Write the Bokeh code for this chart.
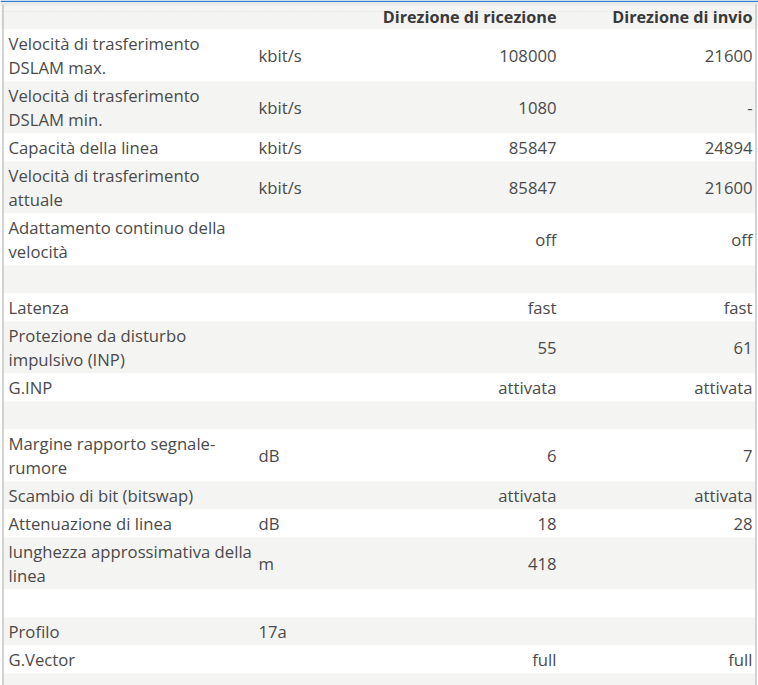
from bokeh.plotting import figure
from bokeh.models import Range1d
from bokeh.core.properties import value
from bokeh.embed import file_html
from bokeh.resources import INLINE

# ---- data ----
header_rx = "Direzione di ricezione"
header_tx = "Direzione di invio"

labels = [
    "Velocità di trasferimento\nDSLAM max.",
    "Velocità di trasferimento\nDSLAM min.",
    "Capacità della linea",
    "Velocità di trasferimento\nattuale",
    "Adattamento continuo della\nvelocità",
    "",
    "Latenza",
    "Protezione da disturbo\nimpulsivo (INP)",
    "G.INP",
    "",
    "Margine rapporto segnale-\nrumore",
    "Scambio di bit (bitswap)",
    "Attenuazione di linea",
    "lunghezza approssimativa della\nlinea",
    "",
    "Profilo",
    "G.Vector",
    "",
]
units = ["kbit/s", "kbit/s", "kbit/s", "kbit/s", "", "", "", "", "", "",
         "dB", "", "dB", "m", "", "17a", "", ""]
rx_vals = ["108000", "1080", "85847", "85847", "off", "", "fast", "55", "attivata", "",
           "6", "attivata", "18", "418", "", "", "full", ""]
tx_vals = ["21600", "-", "24894", "21600", "off", "", "fast", "61", "attivata", "",
           "7", "attivata", "28", "", "", "", "full", ""]

# ---- layout ----
W, H = 758, 685
FONT = "Open Sans"
FS = "16.7px"
FSB = "16.2px"
TXT = "#4a4a4a"
GRAY = "#f4f4f3"

p = figure(width=W, height=H, output_backend="svg", toolbar_location=None,
           x_range=Range1d(0, W), y_range=Range1d(H, 0), min_border=0)
p.axis.visible = False
p.grid.visible = False
p.outline_line_color = None
p.background_fill_color = "white"
p.border_fill_color = "white"

# header
p.quad(left=0, right=W, top=0, bottom=29, fill_color=GRAY, line_color=None)
p.quad(left=0, right=W, top=1.5, bottom=5, fill_color="#e9e9e8", line_color=None)
p.quad(left=0, right=W, top=0, bottom=1.5, fill_color="#2f7fd1", line_color=None)
p.line(x=[3, 755], y=[11, 11], line_color="#dcdcdc", line_width=1, line_dash="1 2")

p.text(x=[556], y=[16], text=[header_rx], text_align="right", text_baseline="middle",
       text_font=value(FONT), text_font_size=FSB, text_font_style="bold", text_color="#3a3a3a")
p.text(x=[752], y=[16], text=[header_tx], text_align="right", text_baseline="middle",
       text_font=value(FONT), text_font_size=FSB, text_font_style="bold", text_color="#3a3a3a")

# rows
tops, bots, cols = [], [], []
lx, ly, lt = [], [], []
ux, uy, ut = [], [], []
rxy, rxt, txy, txt = [], [], [], []
y = 29
for i, lab in enumerate(labels):
    lines = lab.split("\n") if lab else [""]
    h = 28 if len(lines) == 1 else 52
    if i == len(labels) - 1:
        h = 40
    tops.append(y); bots.append(y + h)
    cols.append(GRAY if i % 2 == 1 else "white")
    c = y + (28 if len(lines) == 1 else 52) / 2
    for k, ln in enumerate(lines):
        off = 0 if len(lines) == 1 else (-12 if k == 0 else 12)
        lx.append(8); ly.append(c + off); lt.append(ln)
    uy.append(c); ut.append(units[i]); ux.append(258)
    rxy.append(c); rxt.append(rx_vals[i])
    txy.append(c); txt.append(tx_vals[i])
    y += h

p.quad(left=3, right=755, top=tops, bottom=bots, fill_color=cols, line_color=None)

common = dict(text_baseline="middle", text_font=value(FONT), text_font_size=FS, text_color=TXT)
p.text(x=lx, y=ly, text=lt, text_align="left", **common)
p.text(x=ux, y=uy, text=ut, text_align="left", **common)
p.text(x=[556] * len(rxy), y=rxy, text=rxt, text_align="right", **common)
p.text(x=[752] * len(txy), y=txy, text=txt, text_align="right", **common)

# borders
p.line(x=[2.5, 2.5], y=[4, H], line_color="#c4c4c4", line_width=1.5)
p.line(x=[755.5, 755.5], y=[4, H], line_color="#c4c4c4", line_width=1.5)

open("out.html", "w").write(file_html(p, INLINE))
